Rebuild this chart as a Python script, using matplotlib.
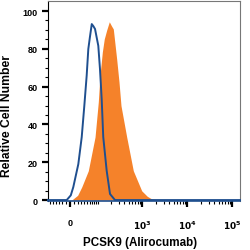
import numpy as np
import matplotlib
matplotlib.use("Agg")
import matplotlib.pyplot as plt

# Data (logicle-like display units)
isotype_x = [-69, -8.5, 2, 8.5, 21.9, 31.8, 40, 48, 54, 60, 67.9, 75, 83, 100.5,
             110.5, 121.5, 132.5, 159.5, 190.5, 247.5, 150000]
isotype_y = [0, 0, 2.5, 6.9, 19, 33.3, 49.9, 65.8, 79.9, 86, 93.1, 92, 90.5, 81.6,
             69.3, 53.4, 33.3, 15.5, 3.2, 0, 0]

pcsk9_x = [-69, 4.35, 20, 31.8, 54, 83, 100.5, 110.5, 126, 140, 160, 183.5, 205,
           226.5, 270, 305, 338, 454, 637, 980, 1300, 1660, 2500, 150000]
pcsk9_y = [0, 0, 2.5, 6.9, 15.5, 33.3, 51.9, 65.8, 78.3, 85.2, 90, 94.3, 92.2,
           90.5, 74.6, 62.4, 49.9, 33.3, 15.5, 4.9, 2, 0.5, 0, 0]

x_major = [0, 1e3, 1e4, 1e5]
x_major_labels = ['0', r'$\mathbf{10^3}$', r'$\mathbf{10^4}$', r'$\mathbf{10^5}$']
y_major = [0, 20, 40, 60, 80, 100]

plt.rcParams['font.family'] = ['Liberation Sans', 'DejaVu Sans']

C = 50.0
def fwd(x):
    return np.arcsinh(np.asarray(x, dtype=float) / C)
def inv(y):
    return C * np.sinh(np.asarray(y, dtype=float))

fig = plt.figure(figsize=(2.5, 2.51), dpi=100)
ax = fig.add_axes([48/250, 1 - 202/251, 192/250, 200/251])
ax.set_xscale('function', functions=(fwd, inv))

orange = '#f5822a'
blue = '#1f4f8f'
ax.fill_between(pcsk9_x, pcsk9_y, 0, color=orange, linewidth=0, zorder=2)
ax.plot(isotype_x, isotype_y, color=blue, linewidth=1.4, zorder=3,
        solid_joinstyle='round', clip_on=False)

ax.set_xlim(-69, 150000)
ax.set_ylim(-0.5, 105.3)

# ticks
minor_x = [-60, -50, -40, -30, -20, -10]
minor_x += list(range(10, 100, 10)) + list(range(100, 1000, 100))
minor_x += list(range(2000, 10000, 1000)) + list(range(20000, 100000, 10000))
ax.set_xticks(x_major)
ax.set_xticklabels(x_major_labels)
ax.set_xticks(minor_x, minor=True)
ax.set_yticks(y_major)
ax.set_yticks(np.arange(0, 105, 5), minor=True)

ax.tick_params(axis='both', which='major', direction='out', length=4.5, width=1.6,
               color='black', labelsize=6.5)
ax.tick_params(axis='both', which='minor', direction='out', length=2.5, width=0.8,
               color='black')
ax.tick_params(axis='x', which='major', pad=8)
ax.tick_params(axis='y', which='major', pad=3)
for lab in ax.get_yticklabels() + ax.get_xticklabels():
    lab.set_fontweight('bold')

for s in ['top', 'right']:
    ax.spines[s].set_color('#777777')
    ax.spines[s].set_linewidth(0.8)
ax.spines['left'].set_color('black')
ax.spines['left'].set_linewidth(0.8)
ax.spines['bottom'].set_color(blue)
ax.spines['bottom'].set_linewidth(1.2)

fig.text(7/250, 1 - 116/251, 'Relative Cell Number', rotation=90, ha='center',
         va='center', fontsize=8.7, fontweight='bold')
fig.text(140/250, 1 - 243/251, 'PCSK9 (Alirocumab)', ha='center', va='center',
         fontsize=8.4, fontweight='bold')

fig.savefig('out.png', dpi=100)
